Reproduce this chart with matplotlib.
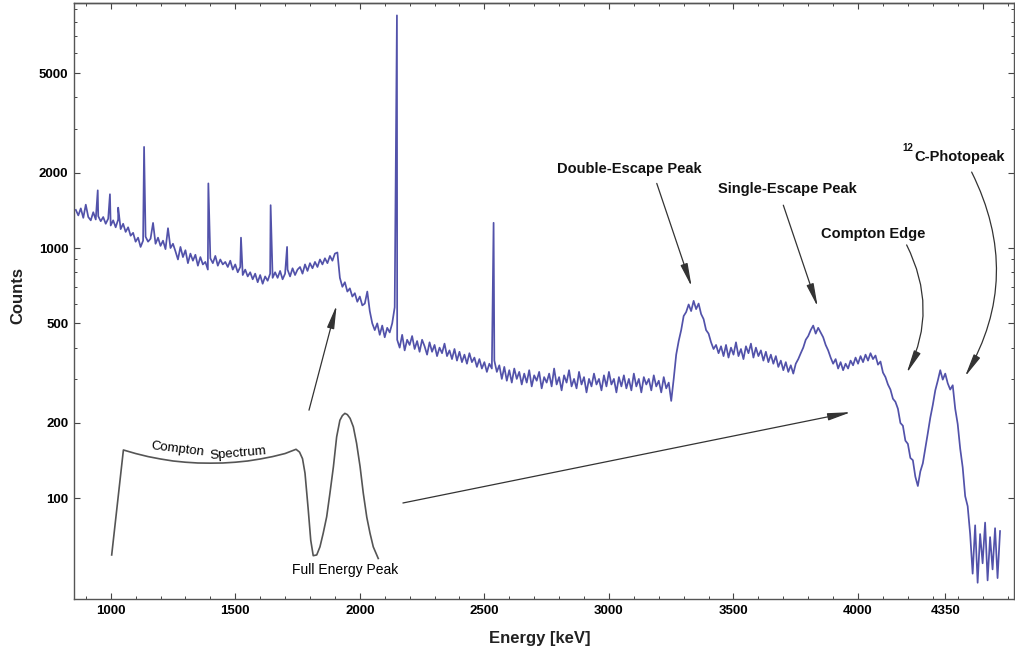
import numpy as np
import matplotlib
matplotlib.use('Agg')
import matplotlib.pyplot as plt
from matplotlib.ticker import NullFormatter

plt.rcParams['font.family'] = ['Liberation Sans', 'DejaVu Sans']

# measured spectrum, 10 keV channels from 860 keV
energy_start = 860
energy_step = 10
counts = [
    1420, 1350, 1440, 1320, 1490, 1330, 1290, 1390, 1300, 1340,
    1280, 1330, 1250, 1310, 1230, 1290, 1210, 1300, 1190, 1250,
    1160, 1210, 1120, 1150, 1060, 1100, 1010, 1070, 1110, 1060,
    1090, 1260, 1040, 1100, 1020, 1070, 990, 1200, 1000, 1040,
    970, 900, 1010, 920, 980, 870, 950, 890, 940, 850,
    920, 860, 880, 820, 910, 870, 930, 850, 900, 860,
    880, 840, 890, 820, 860, 800, 840, 780, 820, 770,
    800, 750, 790, 730, 780, 720, 770, 740, 790, 760,
    800, 760, 810, 750, 790, 820, 770, 830, 780, 820,
    840, 790, 860, 810, 870, 830, 880, 840, 900, 860,
    910, 870, 930, 890, 950, 960, 760, 700, 730, 670,
    690, 640, 660, 610, 640, 590, 600, 670, 560, 500,
    470, 500, 450, 490, 440, 480, 460, 500, 580, 430,
    400, 450, 390, 430, 410, 445, 395, 425, 385, 430,
    405, 375, 420, 385, 410, 370, 400, 380, 415, 370,
    390, 360, 395, 355, 385, 350, 375, 345, 380, 350,
    365, 335, 360, 330, 350, 320, 345, 330, 355, 320,
    340, 300, 335, 295, 325, 290, 330, 300, 320, 285,
    315, 290, 325, 280, 310, 295, 320, 275, 305, 290,
    315, 280, 330, 285, 305, 270, 310, 290, 325, 280,
    300, 275, 320, 285, 305, 265, 300, 280, 315, 285,
    300, 270, 310, 280, 320, 285, 300, 265, 305, 280,
    310, 275, 300, 270, 315, 280, 300, 265, 305, 285,
    300, 270, 310, 280, 295, 265, 305, 275, 290, 245,
    300, 375, 425, 470, 535, 555, 595, 560, 615, 570,
    600, 545, 520, 470, 455, 420, 395, 410, 380, 405,
    370, 410, 365, 400, 375, 420, 370, 395, 360, 405,
    380, 415, 365, 400, 370, 390, 355, 385, 350, 375,
    345, 370, 335, 355, 325, 350, 320, 340, 315, 345,
    360, 380, 400, 430, 445, 470, 490, 455, 480, 460,
    440, 410, 390, 365, 345, 360, 330, 350, 325, 345,
    330, 355, 340, 365, 345, 370, 350, 375, 355, 380,
    360, 372, 342, 352, 318, 305, 285, 272, 250, 243,
    228, 200, 195, 170, 165, 145, 142, 122, 112, 128,
    138, 158, 182, 210, 236, 270, 295, 325, 298, 315,
    288, 272, 283, 228, 198, 158, 133, 102, 93, 72,
    50, 78, 46, 72, 55, 80, 47, 70, 52, 76,
    48, 74,
]

# narrow gamma lines sitting on the continuum
line_energy = [948, 997, 1030, 1134, 1392, 1523, 1642, 1708, 2149, 2537]
line_counts = [1700, 1640, 1450, 2535, 1812, 1100, 1483, 1010, 8500, 1261]

# sketch of an ideal detector response (Compton continuum + full energy peak)
sketch_energy = [1004, 1051, 1100, 1150, 1200, 1250, 1300, 1350, 1400, 1450,
                 1500, 1550, 1600, 1650, 1700, 1744, 1758, 1770, 1780, 1793,
                 1803, 1813, 1827, 1840, 1853, 1867, 1880, 1894, 1907, 1920,
                 1930, 1940, 1950, 1961, 1974, 1987, 2001, 2014, 2028, 2041,
                 2054, 2074]
sketch_counts = [59.4, 156, 151, 146.8, 143.6, 141, 139.4, 138.4, 138.2, 138.4,
                 139.4, 141, 143.6, 146.8, 151, 157, 153, 144, 126, 90,
                 68, 59, 59.4, 64, 72.5, 84.4, 104.7, 133.7, 176, 205,
                 214, 218.5, 216, 208.7, 193, 166, 134, 104.7, 84, 72.5,
                 64, 57.5]

x_major = [1000, 1500, 2000, 2500, 3000, 3500, 4000, 4350]
x_minor = list(range(900, 4700, 100))
top_major = [1000, 1500, 2000, 2500, 3000, 3500, 4000, 4500]
y_major = [100, 200, 500, 1000, 2000, 5000]
y_minor = [300, 400, 600, 700, 800, 900, 3000, 4000, 6000, 7000, 8000, 9000]

energy = energy_start + energy_step * np.arange(len(counts))
e_all = np.concatenate([energy, line_energy])
c_all = np.concatenate([counts, line_counts])
order = np.argsort(e_all, kind='stable')

fig = plt.figure(figsize=(10.15, 6.57), dpi=100)
ax = fig.add_axes([74 / 1015, 57.7 / 657, 940 / 1015, 596 / 657])
ax.set_yscale('log')

ax.plot(e_all[order], c_all[order], color='#3a3a9e', lw=1.25, alpha=0.88)
ax.plot(sketch_energy, sketch_counts, color='#555555', lw=1.2)

ax.set_xlim(852.7, 4626)
ax.set_ylim(39.5, 9500)

# ticks
ax.set_xticks(x_major, labels=[str(v) for v in x_major], fontweight='bold', fontsize=9.5)
ax.set_xticks(x_minor, minor=True)
ax.set_yticks(y_major, labels=[str(v) for v in y_major], fontweight='bold', fontsize=9.5)
ax.set_yticks(y_minor, minor=True)
ax.yaxis.set_minor_formatter(NullFormatter())
ax.tick_params(which='both', direction='in', right=True, top=False, color='#444444')
ax.tick_params(which='major', length=4, width=0.8, pad=4)
ax.tick_params(which='minor', length=2.5, width=0.7)

top = ax.secondary_xaxis('top')
top.set_xticks(top_major)
top.set_xticks(x_minor, minor=True)
top.xaxis.set_major_formatter(NullFormatter())
top.tick_params(which='both', direction='in', color='#444444')
top.tick_params(which='major', length=4, width=0.8)
top.tick_params(which='minor', length=2.5, width=0.7)

for spine in list(ax.spines.values()) + [top.spines['top']]:
    spine.set_color('#555555')
    spine.set_linewidth(1.0)

ax.set_xlabel('Energy [keV]', fontsize=12, fontweight='bold', color='#222222')
ax.set_ylabel('Counts', fontsize=12, fontweight='bold', color='#222222')
ax.xaxis.set_label_coords(0.496, -0.065)
ax.xaxis.label.set_va('center')
ax.yaxis.set_label_coords(-0.06, 0.51)
ax.yaxis.label.set_va('center')

# sketch labels
ax.text(1268, 157, 'Compton', rotation=-7, ha='center', va='center', fontsize=9.5)
ax.text(1511, 151, 'Spectrum', rotation=5, ha='center', va='center', fontsize=9.5)
ax.text(1940, 51.7, 'Full Energy Peak', ha='center', va='center', fontsize=10)

# feature labels
label_kw = dict(ha='center', va='center', fontsize=10.5, fontweight='bold', color='#111111')
ax.text(3080, 2075, 'Double-Escape Peak', **label_kw)
ax.text(3717, 1726, 'Single-Escape Peak', **label_kw)
ax.text(4060, 1142, 'Compton Edge', **label_kw)
ax.text(4409, 2307, 'C-Photopeak', **label_kw)
ax.text(4200, 2505, '12', ha='center', va='center', fontsize=7, fontweight='bold', color='#111111')

arrow_style = '-|>,head_length=1.4,head_width=0.22'


def arrow(tail, head, rad=0.0):
    ax.annotate('', xy=head, xytext=tail,
                arrowprops=dict(arrowstyle=arrow_style, color='#333333', lw=0.9,
                                mutation_scale=10, shrinkA=0, shrinkB=0,
                                connectionstyle=f'arc3,rad={rad}'))


arrow((1796, 225), (1907, 591))
arrow((2173, 95.8), (3972, 221))
arrow((3192, 1812), (3332, 700))
arrow((3700, 1483), (3838, 582))
arrow((4195, 1029), (4195, 316), rad=-0.25)
arrow((4456, 2011), (4429, 306), rad=-0.27)

fig.savefig('out.png', dpi=100)
